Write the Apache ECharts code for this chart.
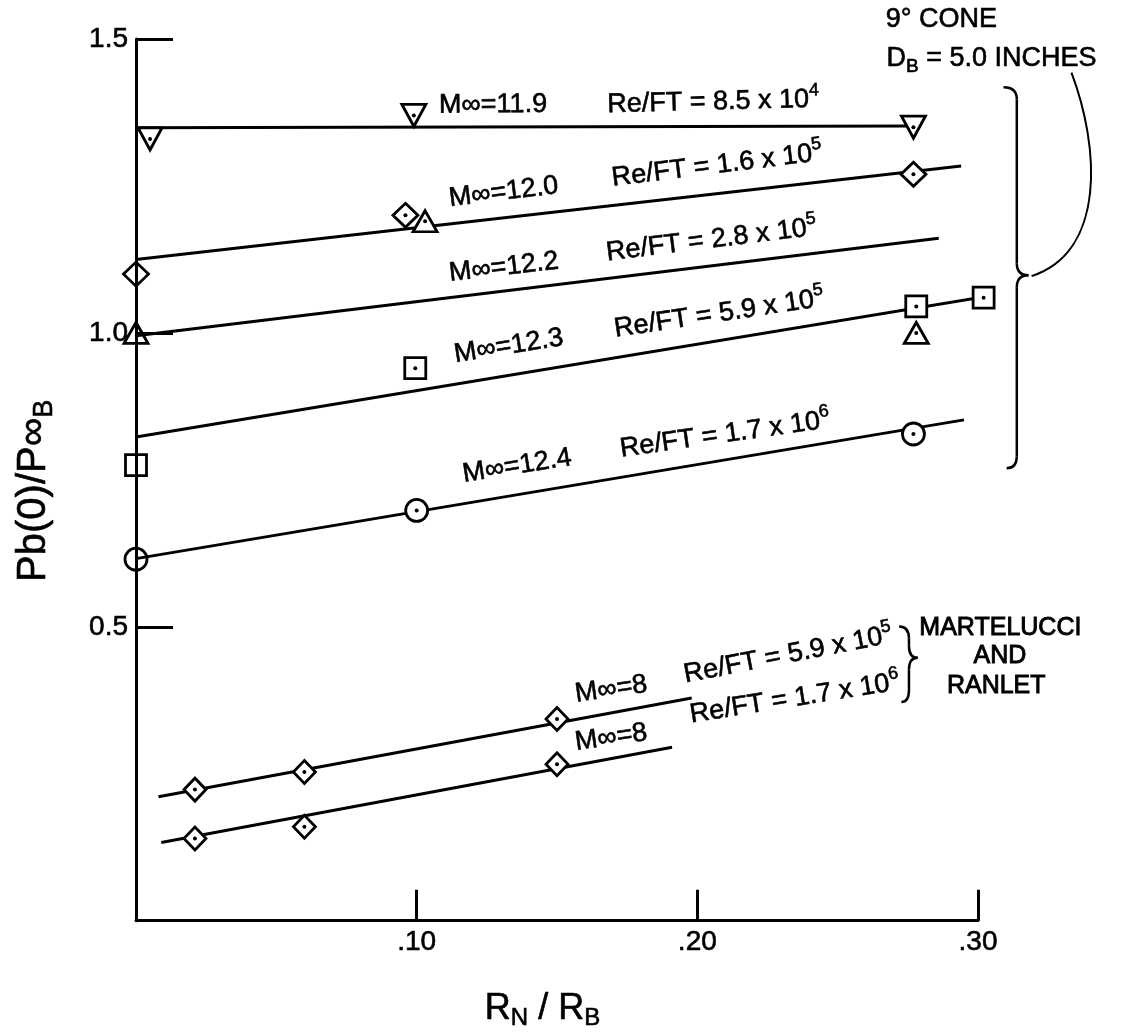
<!DOCTYPE html>
<html lang="en">
<head>
<meta charset="utf-8">
<title>Base pressure on a 9° cone</title>
<script src="https://cdn.jsdelivr.net/npm/echarts@6.0.0/dist/echarts.min.js"></script>
<style>
  html, body { margin: 0; padding: 0; background: #fff; }
  #chart { width: 1127px; height: 1036px; }
</style>
</head>
<body>
<div id="chart"></div>
<script>
const FONT = '"Liberation Sans", Arial, Helvetica, sans-serif';

// Axis ticks
const xTicks = [0.10, 0.20, 0.30];
const yTicks = [0.5, 1.0, 1.5];

// Measured base pressure ratio Pb(0)/P∞B against nose bluntness RN/RB
const ptsRe85e4 = [[0.005, 1.33], [0.099, 1.37], [0.277, 1.35]];
const ptsRe16e5 = [[0, 1.10], [0.096, 1.20], [0.277, 1.27]];
const ptsRe28e5 = [[0, 1.00], [0.103, 1.19], [0.278, 1.00]];
const ptsRe59e5 = [[0, 0.775], [0.0995, 0.94], [0.278, 1.045], [0.302, 1.06]];
const ptsRe17e6 = [[0, 0.615], [0.100, 0.698], [0.277, 0.828]];
// Martelucci and Ranlet, M∞ = 8
const ptsMR59e5 = [[0.021, 0.223], [0.060, 0.253], [0.150, 0.343]];
const ptsMR17e6 = [[0.021, 0.140], [0.060, 0.160], [0.150, 0.266]];

// Faired curves, end points
const fitRe85e4 = [[0, 1.349], [0.277, 1.352]];
const fitRe16e5 = [[0, 1.125], [0.294, 1.284]];
const fitRe28e5 = [[0, 0.995], [0.286, 1.161]];
const fitRe59e5 = [[0, 0.823], [0.310, 1.0675]];
const fitRe17e6 = [[0, 0.616], [0.295, 0.852]];
const fitMR59e5 = [[0.008, 0.211], [0.198, 0.379]];
const fitMR17e6 = [[0.009, 0.133], [0.191, 0.295]];

// Curve labels
const machLabels = ['11.9', '12.0', '12.2', '12.3', '12.4', '8', '8'];
const reMantissa = ['8.5', '1.6', '2.8', '5.9', '1.7', '5.9', '1.7'];
const reExponent = ['4', '5', '5', '5', '6', '5', '6'];

const INK = '#000';
const HEAVY = { textBorderColor: INK, textBorderWidth: 0.6 };

const markerSets = [
  { data: ptsRe85e4, symbol: 'triangle', rotate: 180, size: [24, 22] },
  { data: ptsRe16e5, symbol: 'diamond', size: [25, 24] },
  { data: ptsRe28e5, symbol: 'triangle', size: [24, 21] },
  { data: ptsRe59e5, symbol: 'rect', size: [21, 21] },
  { data: ptsRe17e6, symbol: 'circle', size: 22 },
  { data: ptsMR59e5, symbol: 'diamond', size: [22, 23] },
  { data: ptsMR17e6, symbol: 'diamond', size: [22, 23] }
];
const fits = [fitRe85e4, fitRe16e5, fitRe28e5, fitRe59e5, fitRe17e6, fitMR59e5, fitMR17e6];

const series = [];
fits.forEach(f => series.push({
  type: 'line', data: f, symbol: 'none', clip: false, z: 2, silent: true,
  lineStyle: { color: INK, width: 3 }
}));
markerSets.forEach(m => series.push({
  type: 'scatter', clip: false, z: 3, silent: true,
  symbol: m.symbol, symbolSize: m.size, symbolRotate: m.rotate || 0,
  itemStyle: { color: '#fff', borderColor: INK, borderWidth: 2.8, opacity: 1 },
  // points on the RN/RB = 0 axis are open, the axis shows through them
  data: m.data.map(p => p[0] === 0
    ? { value: p, itemStyle: { color: 'rgba(0,0,0,0)' } }
    : { value: p })
}));
// centre dots of the plotted symbols
series.push({
  type: 'scatter', clip: false, z: 4, silent: true,
  symbol: 'circle', symbolSize: 4, itemStyle: { color: INK, opacity: 1 },
  data: markerSets.flatMap(m => m.data.filter(p => p[0] > 0))
});

const isTick = (list, v) => list.some(t => Math.abs(t - v) < 1e-9);

const option = {
  animation: false,
  backgroundColor: '#fff',
  grid: { left: 136, top: 39, width: 842, height: 884, containLabel: false },
  xAxis: {
    type: 'value', min: 0, max: xTicks[xTicks.length - 1], interval: xTicks[0],
    axisLine: { lineStyle: { color: INK, width: 3 } },
    axisTick: { inside: true, length: 31, lineStyle: { color: INK, width: 3 } },
    splitLine: { show: false },
    axisLabel: Object.assign({
      margin: 8, color: INK, fontSize: 28, fontFamily: FONT,
      formatter: v => isTick(xTicks, v) ? v.toFixed(2).replace(/^0/, '') : ''
    }, HEAVY),
    name: 'R{sub|N} / R{sub|B}', nameLocation: 'middle', nameGap: 66,
    nameTextStyle: Object.assign({
      color: INK, fontSize: 36, fontFamily: FONT, lineHeight: 44, padding: [0, 29, 0, 0],
      rich: { sub: Object.assign({ fontSize: 24, fontFamily: FONT, color: INK, lineHeight: 30, verticalAlign: 'bottom' }, HEAVY) }
    }, HEAVY)
  },
  yAxis: {
    type: 'value', min: 0, max: yTicks[yTicks.length - 1], interval: yTicks[0],
    axisLine: { lineStyle: { color: INK, width: 3 } },
    axisTick: { inside: true, length: 37, lineStyle: { color: INK, width: 3 } },
    splitLine: { show: false },
    axisLabel: Object.assign({
      margin: 8, color: INK, fontSize: 28, fontFamily: FONT,
      formatter: v => isTick(yTicks, v) ? v.toFixed(1) : ''
    }, HEAVY),
    name: 'Pb(0)/P∞{sub|B}', nameLocation: 'middle', nameRotate: 90, nameGap: 78,
    nameTextStyle: Object.assign({
      color: INK, fontSize: 40, fontFamily: FONT, lineHeight: 48, padding: [0, 22, 0, 0],
      rich: { sub: Object.assign({ fontSize: 27, fontFamily: FONT, color: INK, lineHeight: 34, verticalAlign: 'bottom' }, HEAVY) }
    }, HEAVY)
  },
  series
};

const chart = echarts.init(document.getElementById('chart'), null, { renderer: 'canvas' });
chart.setOption(option);

// ---- annotations, placed in data coordinates ----
const px = p => chart.convertToPixel({ gridIndex: 0 }, p);

const TSTROKE = { stroke: INK, lineWidth: 0.6 };
const RICH = {
  sup: Object.assign({ fontSize: 18, fontFamily: FONT, lineHeight: 14, verticalAlign: 'top' }, TSTROKE),
  sub: Object.assign({ fontSize: 19, fontFamily: FONT, lineHeight: 19, verticalAlign: 'bottom' }, TSTROKE)
};

// text whose baseline starts at data point p, turned by deg (counter-clockwise)
function textAt(p, deg, text, extra) {
  const q = px(p);
  const th = deg * Math.PI / 180;
  const drop = 8;
  return {
    type: 'text', silent: true, z: 10,
    x: q[0] + drop * Math.sin(th), y: q[1] + drop * Math.cos(th), rotation: th,
    style: Object.assign({
      text, fill: INK, fontSize: 27, fontFamily: FONT, lineHeight: 36,
      align: 'left', verticalAlign: 'bottom', rich: RICH
    }, TSTROKE, extra || {})
  };
}

// label positions along each faired curve
const noteLayout = [
  { m: [0.108, 1.370], mDeg: 0.5, r: [0.168, 1.371], rDeg: 1.5 },
  { m: [0.112, 1.211], mDeg: 7.0, r: [0.170, 1.246], rDeg: 7.0 },
  { m: [0.112, 1.084], mDeg: 6.5, r: [0.168, 1.119], rDeg: 7.0 },
  { m: [0.114, 0.946], mDeg: 9.0, r: [0.171, 0.989], rDeg: 8.5 },
  { m: [0.117, 0.742], mDeg: 9.0, r: [0.173, 0.785], rDeg: 8.0 },
  { m: [0.157, 0.368], mDeg: 8.0, r: [0.196, 0.401], rDeg: 11.0 },
  { m: [0.157, 0.286], mDeg: 8.0, r: [0.198, 0.333], rDeg: 9.0 }
];

const elements = [];
noteLayout.forEach((n, i) => {
  elements.push(textAt(n.m, n.mDeg, 'M∞=' + machLabels[i]));
  elements.push(textAt(n.r, n.rDeg, 'Re/FT = ' + reMantissa[i] + ' x 10{sup|' + reExponent[i] + '}'));
});

// curly brace: top hook, point, bottom hook (pixel coordinates)
function brace(top, tip, bottom, width) {
  const bx = (top[0] + bottom[0]) / 2 + (tip[0] - (top[0] + bottom[0]) / 2) * 0.5;
  const r = 12;
  const st = { stroke: INK, lineWidth: width, fill: null };
  const seg = (shape, type) => ({ type: type || 'bezierCurve', silent: true, z: 10, shape, style: st });
  return [
    seg({ x1: top[0], y1: top[1], cpx1: bx, cpy1: top[1], x2: bx, y2: top[1] + r }),
    seg({ x1: bx, y1: top[1] + r, x2: bx, y2: tip[1] - r }, 'line'),
    seg({ x1: bx, y1: tip[1] - r, cpx1: bx, cpy1: tip[1], x2: tip[0], y2: tip[1] }),
    seg({ x1: tip[0], y1: tip[1], cpx1: bx, cpy1: tip[1], x2: bx, y2: tip[1] + r }),
    seg({ x1: bx, y1: tip[1] + r, x2: bx, y2: bottom[1] - r }, 'line'),
    seg({ x1: bx, y1: bottom[1] - r, cpx1: bx, cpy1: bottom[1], x2: bottom[0], y2: bottom[1] })
  ];
}

// 9° cone group
elements.push(textAt([0.2671, 1.5167], 0, '9° CONE'));
elements.push(textAt([0.2674, 1.4505], 0, 'D{sub|B} = 5.0 INCHES'));
elements.push(...brace(px([0.3091, 1.4179]), px([0.3180, 1.0982]), px([0.3102, 0.7698]), 2.5));
{
  const s = px([0.3333, 1.4427]), c1 = px([0.3433, 1.3165]), c2 = px([0.3457, 1.1386]), e = px([0.3191, 1.0966]);
  elements.push({
    type: 'bezierCurve', silent: true, z: 10,
    shape: { x1: s[0], y1: s[1], cpx1: c1[0], cpy1: c1[1], cpx2: c2[0], cpy2: c2[1], x2: e[0], y2: e[1] },
    style: { stroke: INK, lineWidth: 2, fill: null }
  });
}

// Martelucci and Ranlet group
elements.push(...brace(px([0.2719, 0.5007]), px([0.2785, 0.4472]), px([0.2727, 0.3719]), 2.5));
elements.push(textAt([0.2791, 0.4812], 0, 'MARTELUCCI', { fontSize: 25, lineWidth: 0.9 }));
elements.push(textAt([0.3078, 0.4335], 0, 'AND', { fontSize: 25, align: 'center', lineWidth: 0.9 }));
elements.push(textAt([0.3065, 0.3825], 0, 'RANLET', { fontSize: 25, align: 'center', lineWidth: 0.9 }));

chart.setOption({ graphic: { elements } });
</script>
</body>
</html>
